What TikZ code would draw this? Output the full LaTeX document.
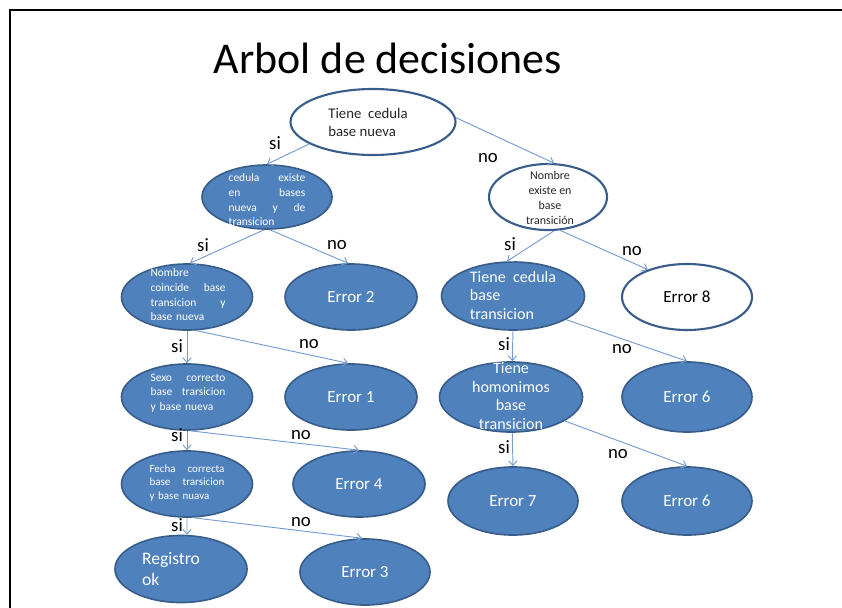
\documentclass[tikz,border=0pt]{standalone}
\usepackage{fontspec}
\setmainfont{Carlito}
\usetikzlibrary{arrows.meta,shapes.geometric}
\definecolor{treeblue}{RGB}{79,129,189}
\definecolor{treeedge}{RGB}{56,93,138}
\definecolor{treeline}{RGB}{116,156,210}
\definecolor{treetext}{RGB}{38,38,38}

\begin{document}
\begin{tikzpicture}[x=0.03cm,y=-0.03cm,
  ell/.style n args={2}{ellipse,inner sep=0pt,
               minimum width=#1*0.03cm,minimum height=#2*0.03cm},
  full/.style={fill=treeblue,draw=treeedge,line width=1.4pt},
  hollow/.style={fill=white,draw=treeedge,line width=1.8pt},
  small/.style={font=\fontsize{9.8}{12.5}\selectfont,text=white,inner sep=0pt,
                text width=2.25cm,align=left},
  big/.style={font=\fontsize{13.7}{15.8}\selectfont,text=white,inner sep=0pt},
  err/.style={font=\fontsize{14.5}{16}\selectfont,text=white,inner sep=0pt},
  arr/.style={draw=treeline,line width=0.8pt,-{Straight Barb[length=4pt,width=7pt]}},
  lbl/.style={font=\fontsize{16}{16}\selectfont,inner sep=0pt},
]
\useasboundingbox (0,0) rectangle (842,607);

%% Frame and title
\draw[line width=1.6pt] (10,620) -- (10,10) -- (860,10);
\node[font=\fontsize{37.5}{40}\selectfont,anchor=base,inner sep=0pt]
  (title) at (388,73) {Arbol de decisiones};

%% Level 0: root
\node[ell={165}{66},hollow] (root) at (373,122) {};
\node[font=\fontsize{12.6}{15.4}\selectfont,text=treetext,align=left,inner sep=0pt]
  (rootT) at (368,122) {Tiene\ \ cedula\\base nueva};

%% Level 1
\node[ell={130}{64},full] (ce) at (267,197) {};
\node[small,text width=2.3cm] (ceT) at (267,200)
  {cedula\hfill existe\\en\hfill bases\\nueva\hfill y\hfill de\\transicion};
\node[ell={118}{66},hollow] (ne) at (548,197) {};
\node[font=\fontsize{10.2}{12.8}\selectfont,text=treetext,align=center,inner sep=0pt]
  (neT) at (550,198) {Nombre\\existe en\\base\\transición};

%% Level 2
\node[ell={131}{66},full] (nc) at (187,297) {};
\node[small] (ncT) at (188,295)
  {Nombre\\coincide\hfill base\\transicion\hfill y\\base nueva};
\node[ell={132}{66},full] (e2) at (351,297) {};
\node[err] (e2T) at (351,297) {Error 2};
\node[ell={143}{68},full] (tc) at (513,296) {};
\node[big,align=left] (tcT) at (513,295) {Tiene\ \ cedula\\base\\transicion};
\node[ell={130}{66},hollow] (e8) at (687,297) {};
\node[err,text=black] (e8T) at (687,297) {Error 8};

%% Level 3
\node[ell={131}{66},full] (sx) at (187,397) {};
\node[small] (sxT) at (188,393)
  {Sexo\hfill correcto\\base\hfill trarsicion\\y base nueva};
\node[ell={132}{66},full] (e1) at (351,397) {};
\node[err] (e1T) at (351,397) {Error 1};
\node[ell={143}{70},full] (th) at (511,397) {};
\node[big,align=center] (thT) at (511,396) {Tiene\\homonimos\\base\\transicion};
\node[ell={130}{70},full] (e6a) at (687,397) {};
\node[err] (e6aT) at (687,397) {Error 6};

%% Level 4
\node[ell={131}{66},full] (fc) at (187,484) {};
\node[small,font=\fontsize{9.4}{11.8}\selectfont] (fcT) at (187,483)
  {Fecha\hfill correcta\\base\hfill trarsicion\\y base nuava};
\node[ell={132}{66},full] (e4) at (359,484) {};
\node[err] (e4T) at (359,484) {Error 4};
\node[ell={130}{68},full] (e7) at (513,501) {};
\node[err] (e7T) at (513,501) {Error 7};
\node[ell={130}{68},full] (e6b) at (687,501) {};
\node[err] (e6bT) at (687,501) {Error 6};

%% Level 5
\node[ell={132}{67},full] (ok) at (181,569) {};
\node[font=\fontsize{15}{18.5}\selectfont,text=white,align=left,inner sep=0pt]
  (okT) at (171,569) {Registro\\ok};
\node[ell={130}{66},full] (e3) at (365,572) {};
\node[err] (e3T) at (365,572) {Error 3};

%% Connectors
\draw[arr] (root.199) -- (ce.north);
\draw[arr] (root.3)   -- (ne.80);
\draw[arr] (ce.265)   -- (nc.85);
\draw[arr] (ce.275)   -- (e2.95);
\draw[arr] (ne.280)   -- (tc.100);
\draw[arr] (ne.290)   -- (e8.145);
\draw[arr] (nc.south) -- (sx.north);
\draw[arr] (nc.285)   -- (e1.95);
\draw[arr] (sx.south) -- (fc.north);
\draw[arr] (sx.275)   -- (e4.north);
\draw[arr] (fc.south) -- (ok.80);
\draw[arr] (fc.280)   -- (e3.95);
\draw[arr] (tc.south) -- (th.88);
\draw[arr] (tc.336)   -- (e6a.north);
\draw[arr] (th.272)   -- (e7.north);
\draw[arr] (th.336)   -- (e6b.north);

%% Branch labels
\node[lbl] (l1)  at (275,143) {si};
\node[lbl] (l2)  at (488,158) {no};
\node[lbl] (l3)  at (203,245) {si};
\node[lbl] (l4)  at (337,245) {no};
\node[lbl] (l5)  at (510,244) {si};
\node[lbl] (l6)  at (632,251) {no};
\node[lbl] (l7)  at (177,346) {si};
\node[lbl] (l8)  at (309,344) {no};
\node[lbl] (l9)  at (177,435) {si};
\node[lbl] (l10) at (301,435) {no};
\node[lbl] (l11) at (177,525) {si};
\node[lbl] (l12) at (301,522) {no};
\node[lbl] (l13) at (504,344) {si};
\node[lbl] (l14) at (622,349) {no};
\node[lbl] (l15) at (504,447) {si};
\node[lbl] (l16) at (618,454) {no};

\end{tikzpicture}
\end{document}
